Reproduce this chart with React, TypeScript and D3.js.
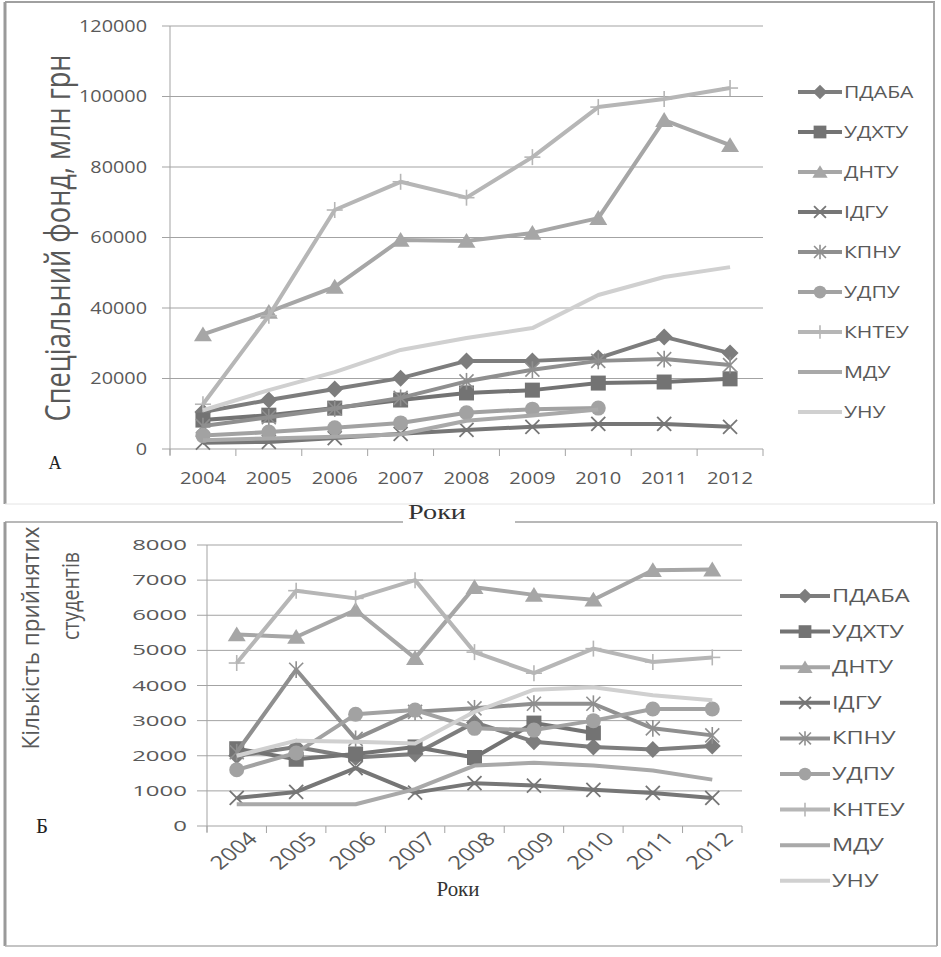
import React from 'react';
import * as d3 from 'd3';

const years = ['2004', '2005', '2006', '2007', '2008', '2009', '2010', '2011', '2012'];
const seriesNames = ['ПДАБА', 'УДХТУ', 'ДНТУ', 'ІДГУ', 'КПНУ', 'УДПУ', 'КНТЕУ', 'МДУ', 'УНУ'];
const markerTypes = ['diamond', 'square', 'triangle', 'x', 'star', 'circle', 'plus', 'none', 'none'];
const seriesColors = ['#7d7d7d', '#737373', '#a6a6a6', '#767676', '#8f8f8f', '#a2a2a2', '#b6b6b6', '#a9a9a9', '#d0d0d0'];

// Chart А: special fund, mln UAH
const fundTicks = [0, 20000, 40000, 60000, 80000, 100000, 120000];
const fundPDABA = [10500, 13900, 17000, 20100, 25000, 25000, 25800, 31800, 27200];
const fundUDKhTU = [8200, 9600, 11600, 13900, 15900, 16700, 18700, 19000, 19900];
const fundDNTU = [32500, 38900, 46000, 59300, 59000, 61300, 65500, 93300, 86200];
const fundIDGU = [1800, 2000, 3100, 4300, 5400, 6300, 7100, 7100, 6300];
const fundKPNU = [6500, 9000, 11500, 14500, 19200, 22500, 25000, 25500, 23800];
const fundUDPU = [3800, 4800, 6000, 7400, 10300, 11300, 11600, null, null];
const fundKNTEU = [12700, 37800, 67800, 75800, 71300, 82800, 97000, 99300, 102400];
const fundMDU = [2500, 3000, 3500, 4200, 8000, 9500, 11200, null, null];
const fundUNU = [11000, 16700, 21800, 28100, 31500, 34300, 43700, 48800, 51600];

// Chart Б: admitted students
const admTicks = [0, 1000, 2000, 3000, 4000, 5000, 6000, 7000, 8000];
const admPDABA = [2000, 2250, 1950, 2050, 2950, 2400, 2250, 2180, 2280];
const admUDKhTU = [2200, 1900, 2050, 2250, 1950, 2930, 2650, null, null];
const admDNTU = [5450, 5380, 6150, 4780, 6800, 6580, 6440, 7280, 7300];
const admIDGU = [800, 970, 1650, 950, 1220, 1150, 1030, 940, 800];
const admKPNU = [2100, 4450, 2480, 3250, 3350, 3480, 3480, 2780, 2580];
const admUDPU = [1600, 2080, 3180, 3300, 2780, 2730, 3000, 3330, 3330];
const admKNTEU = [4640, 6700, 6480, 7000, 4950, 4350, 5050, 4670, 4800];
const admMDU = [620, 620, 620, 1050, 1720, 1800, 1720, 1580, 1320];
const admUNU = [2000, 2430, 2400, 2350, 3250, 3880, 3950, 3720, 3580];

const fundSeries = [fundPDABA, fundUDKhTU, fundDNTU, fundIDGU, fundKPNU, fundUDPU, fundKNTEU, fundMDU, fundUNU];
const admSeries = [admPDABA, admUDKhTU, admDNTU, admIDGU, admKPNU, admUDPU, admKNTEU, admMDU, admUNU];

const SANS = '"Open Sans", sans-serif';
const SERIF = '"Liberation Serif", "Times New Roman", serif';
const TXT = '#595959';

function Marker({ type, x, y, color, s = 1 }: { type: string; x: number; y: number; color: string; s?: number }) {
  if (type === 'diamond') {
    const r = 8.5 * s;
    return <polygon points={`${x},${y - r} ${x + r},${y} ${x},${y + r} ${x - r},${y}`} fill={color} />;
  }
  if (type === 'square') {
    const r = 7.5 * s;
    return <rect x={x - r} y={y - r} width={2 * r} height={2 * r} fill={color} />;
  }
  if (type === 'triangle') {
    const w = 9 * s, h = 8 * s;
    return <polygon points={`${x},${y - h} ${x + w},${y + h * 0.85} ${x - w},${y + h * 0.85}`} fill={color} />;
  }
  if (type === 'circle') {
    return <circle cx={x} cy={y} r={7.5 * s} fill={color} />;
  }
  if (type === 'x') {
    const r = 7 * s;
    return (
      <g stroke={color} strokeWidth={1.8}>
        <line x1={x - r} y1={y - r} x2={x + r} y2={y + r} />
        <line x1={x - r} y1={y + r} x2={x + r} y2={y - r} />
      </g>
    );
  }
  if (type === 'star') {
    const r = 7 * s;
    return (
      <g stroke={color} strokeWidth={1.6}>
        <line x1={x - r} y1={y - r} x2={x + r} y2={y + r} />
        <line x1={x - r} y1={y + r} x2={x + r} y2={y - r} />
        <line x1={x} y1={y - r * 1.2} x2={x} y2={y + r * 1.2} />
      </g>
    );
  }
  if (type === 'plus') {
    const r = 8 * s;
    return (
      <g stroke={color} strokeWidth={1.6}>
        <line x1={x - r} y1={y} x2={x + r} y2={y} />
        <line x1={x} y1={y - r} x2={x} y2={y + r} />
      </g>
    );
  }
  return null;
}

function ST({ x, y, sx = 1, size, anchor = 'start', family = SANS, fill = TXT, rotate, children, len }: any) {
  return (
    <text
      transform={`translate(${x},${y}) scale(${sx},1)${rotate ? ` rotate(${rotate})` : ''}`}
      textAnchor={anchor}
      fontSize={size}
      fontFamily={family}
      fill={fill}
      textLength={len}
      lengthAdjust={len ? 'spacingAndGlyphs' : undefined}
    >
      {children}
    </text>
  );
}

function Plot({ cfg }: { cfg: any }) {
  const x = d3.scaleBand<string>().domain(years).range([cfg.left, cfg.right]).paddingInner(0).paddingOuter(0);
  const y = d3.scaleLinear().domain([0, cfg.max]).range([cfg.bottom, cfg.top]);
  const cx = (d: string) => (x(d) as number) + x.bandwidth() / 2;
  const line = d3
    .line<number | null>()
    .defined((d) => d != null)
    .x((_, i) => cx(years[i]))
    .y((d) => y(d as number));
  const bounds = years.map((yr) => x(yr) as number).concat([cfg.right]);
  return (
    <g>
      {cfg.ticks.map((t: number) => (
        <line key={'g' + t} x1={cfg.left - cfg.tickLen} x2={cfg.right} y1={y(t)} y2={y(t)} stroke="#a3a3a3" strokeWidth={1} />
      ))}
      <line x1={cfg.left} x2={cfg.left} y1={cfg.top} y2={cfg.bottom + 6} stroke="#a3a3a3" strokeWidth={1} />
      {bounds.map((b, i) => (
        <line key={'t' + i} x1={b} x2={b} y1={cfg.bottom} y2={cfg.bottom + 7} stroke="#a3a3a3" strokeWidth={1} />
      ))}
      {cfg.ticks.map((t: number) => (
        <ST key={'l' + t} x={cfg.yLabelX} y={y(t) + cfg.yLabelDy} sx={cfg.ySx} size={cfg.yFont} anchor="end">
          {String(t)}
        </ST>
      ))}
      {years.map((yr) =>
        cfg.rotateX ? (
          <ST key={'x' + yr} x={cx(yr) + cfg.xLabelDx} y={cfg.xLabelY} sx={cfg.xSx} size={cfg.xFont} anchor="end" rotate={-45}>
            {yr}
          </ST>
        ) : (
          <ST key={'x' + yr} x={cx(yr)} y={cfg.xLabelY} sx={cfg.xSx} size={cfg.xFont} anchor="middle">
            {yr}
          </ST>
        )
      )}
      {cfg.series.map((vals: (number | null)[], si: number) => (
        <g key={'s' + si}>
          <path d={line(vals) || ''} fill="none" stroke={seriesColors[si]} strokeWidth={4} strokeLinejoin="round" />
          {vals.map((v, i) =>
            v == null ? null : <Marker key={i} type={markerTypes[si]} x={cx(years[i])} y={y(v)} color={seriesColors[si]} />
          )}
        </g>
      ))}
      {seriesNames.map((n, i) => {
        const ly = cfg.legTop + i * cfg.legStep;
        return (
          <g key={'lg' + i}>
            <line x1={cfg.legX1} x2={cfg.legX2} y1={ly} y2={ly} stroke={seriesColors[i]} strokeWidth={4} />
            <Marker type={markerTypes[i]} x={(cfg.legX1 + cfg.legX2) / 2} y={ly} color={seriesColors[i]} s={0.85} />
            <ST x={cfg.legX2 + 2} y={ly + cfg.legDy} sx={cfg.legSx} size={cfg.legFont}>
              {n}
            </ST>
          </g>
        );
      })}
    </g>
  );
}

const topCfg = {
  left: 170, right: 763, top: 26, bottom: 449, max: 120000, ticks: fundTicks, tickLen: 8,
  yLabelX: 147, yLabelDy: 5.5, ySx: 1.28, yFont: 15.5,
  xLabelY: 484, xSx: 1.3, xFont: 15.5, rotateX: false, xLabelDx: 0,
  series: fundSeries,
  legTop: 92, legStep: 40, legX1: 798, legX2: 842, legDy: 6, legSx: 1.28, legFont: 16.5,
};

const botCfg = {
  left: 207, right: 742, top: 545, bottom: 826, max: 8000, ticks: admTicks, tickLen: 10,
  yLabelX: 187, yLabelDy: 5, ySx: 1.6, yFont: 15,
  xLabelY: 840, xSx: 1.25, xFont: 19, rotateX: true, xLabelDx: 22,
  series: admSeries,
  legTop: 596, legStep: 35.6, legX1: 780, legX2: 830, legDy: 6, legSx: 1.35, legFont: 17.5,
};

export default function App() {
  return (
    <svg width={941} height={957} style={{ display: 'block', position: 'absolute', left: 0, top: 0 }}>
      <rect x={0} y={0} width={941} height={957} fill="#ffffff" />
      {/* frame A */}
      <line x1={5} y1={2} x2={935} y2={2} stroke="#a0a0a0" strokeWidth={2} />
      <line x1={5} y1={2} x2={5} y2={504} stroke="#9a9a9a" strokeWidth={3} />
      <line x1={934} y1={2} x2={934} y2={504} stroke="#a8a8a8" strokeWidth={2} />
      <line x1={5} y1={504} x2={934} y2={504} stroke="#e4e4e4" strokeWidth={1} />
      {/* frame Б */}
      <line x1={5} y1={522} x2={403} y2={522} stroke="#a0a0a0" strokeWidth={1.5} />
      <line x1={515} y1={522} x2={937} y2={522} stroke="#a0a0a0" strokeWidth={1.5} />
      <line x1={5} y1={522} x2={5} y2={946} stroke="#9a9a9a" strokeWidth={3} />
      <line x1={937} y1={522} x2={937} y2={946} stroke="#a8a8a8" strokeWidth={2} />
      <line x1={5} y1={946} x2={937} y2={946} stroke="#b0b0b0" strokeWidth={1.5} />

      <Plot cfg={topCfg} />
      <Plot cfg={botCfg} />

      {/* axis titles */}
      <ST x={70} y={238} sx={1.3} size={26} anchor="middle" rotate={-90} len={367}>
        Спеціальний фонд, млн грн
      </ST>
      <ST x={39} y={638} sx={1.25} size={19} anchor="middle" rotate={-90} len={223}>
        Кількість  прийнятих
      </ST>
      <ST x={79} y={596} sx={1.25} size={19} anchor="middle" rotate={-90} len={88}>
        студентів
      </ST>
      <ST x={437} y={519} size={20} anchor="middle" family={SERIF} fill="#333" len={58}>
        Роки
      </ST>
      <ST x={458} y={896} size={22} anchor="middle" family={SERIF} fill="#333" len={43}>
        Роки
      </ST>
      <ST x={55} y={469} size={18} anchor="middle" family={SERIF} fill="#222">
        А
      </ST>
      <ST x={42} y={833} size={20} anchor="middle" family={SERIF} fill="#222" len={12}>
        Б
      </ST>
    </svg>
  );
}
